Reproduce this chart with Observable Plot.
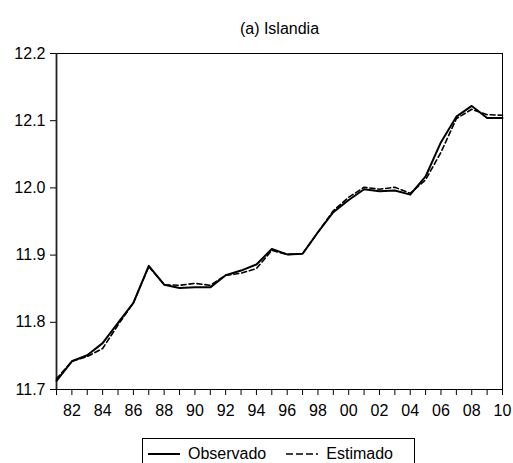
<!DOCTYPE html>
<html><head><meta charset="utf-8">
<script src="https://cdn.jsdelivr.net/npm/d3@7"></script>
<script src="https://cdn.jsdelivr.net/npm/@observablehq/plot@0.6"></script>
<style>
html,body{margin:0;padding:0;background:#fff;overflow:hidden;font-family:"Liberation Sans",Arial,sans-serif;}
#legend{margin-top:13px;margin-left:142px;width:271px;height:30px;border:1px solid #000;display:flex;align-items:center;font-size:16px;color:#000;box-sizing:content-box;}
#legend svg{display:block}
</style></head><body>
<div id="chart"></div>
<div id="legend"></div>
<script>
const title = "(a) Islandia";
const years = [1981,1982,1983,1984,1985,1986,1987,1988,1989,1990,1991,1992,1993,1994,1995,1996,1997,1998,1999,2000,2001,2002,2003,2004,2005,2006,2007,2008,2009,2010];
const observado = [11.713,11.742,11.751,11.769,11.799,11.829,11.884,11.856,11.851,11.852,11.852,11.870,11.877,11.886,11.909,11.901,11.902,11.934,11.964,11.982,11.998,11.995,11.996,11.990,12.017,12.068,12.106,12.122,12.104,12.104];
const estimado = [11.716,11.742,11.749,11.761,11.796,11.829,11.883,11.856,11.855,11.858,11.855,11.870,11.873,11.880,11.907,11.901,11.902,11.934,11.966,11.986,12.001,11.998,12.001,11.992,12.012,12.053,12.103,12.117,12.109,12.108];
const yTicks = [11.7,11.8,11.9,12.0,12.1,12.2];
const seriesNames = ["Observado","Estimado"];

const obsData = years.map((y,i)=>({year:y, value:observado[i]}));
const estData = years.map((y,i)=>({year:y, value:estimado[i]}));

const chart = Plot.plot({
  width:513, height:425,
  marginTop:53, marginLeft:56, marginRight:11, marginBottom:36,
  style:{fontFamily:"'Liberation Sans', Arial, sans-serif", fontSize:"16px", background:"#fff", color:"#000", overflow:"visible"},
  x:{domain:[1981,2010]},
  y:{domain:[11.7,12.2]},
  marks:[
    Plot.axisY({ticks:yTicks, tickFormat:d=>d.toFixed(1), tickSize:6, tickPadding:5, label:null, fontSize:16}),
    Plot.axisX({ticks:years, tickFormat:d=> d%2===0 ? String(d%100).padStart(2,"0") : "", tickSize:6, tickPadding:9, label:null, fontSize:16}),
    Plot.frame({stroke:"#000", strokeWidth:1}),
    Plot.ruleX([1981], {stroke:"#222", strokeWidth:1.8}),
    Plot.line(estData, {x:"year", y:"value", stroke:"#000", strokeWidth:1.6, strokeDasharray:"5,3"}),
    Plot.line(obsData, {x:"year", y:"value", stroke:"#000", strokeWidth:2}),
    Plot.text([title], {frameAnchor:"top", dy:-31, text:d=>d, fontSize:16, fill:"#000"})
  ]
});
document.getElementById("chart").appendChild(chart);

const legend = document.getElementById("legend");
const dashes = [null, "7,3,7,3,7,3,2,40"];
seriesNames.forEach((name,i)=>{
  const ns = "http://www.w3.org/2000/svg";
  const s = document.createElementNS(ns,"svg");
  s.setAttribute("width",32); s.setAttribute("height",10);
  s.style.marginLeft = i===0 ? "5px" : "20px";
  const l = document.createElementNS(ns,"line");
  l.setAttribute("x1",0); l.setAttribute("x2",32); l.setAttribute("y1",5); l.setAttribute("y2",5);
  l.setAttribute("stroke","#000"); l.setAttribute("stroke-width", i===0 ? 2 : 1.6);
  if (dashes[i]) l.setAttribute("stroke-dasharray", dashes[i]);
  s.appendChild(l);
  legend.appendChild(s);
  const t = document.createElement("span");
  t.textContent = name;
  t.style.marginLeft = "8px";
  legend.appendChild(t);
});
</script>
</body></html>
